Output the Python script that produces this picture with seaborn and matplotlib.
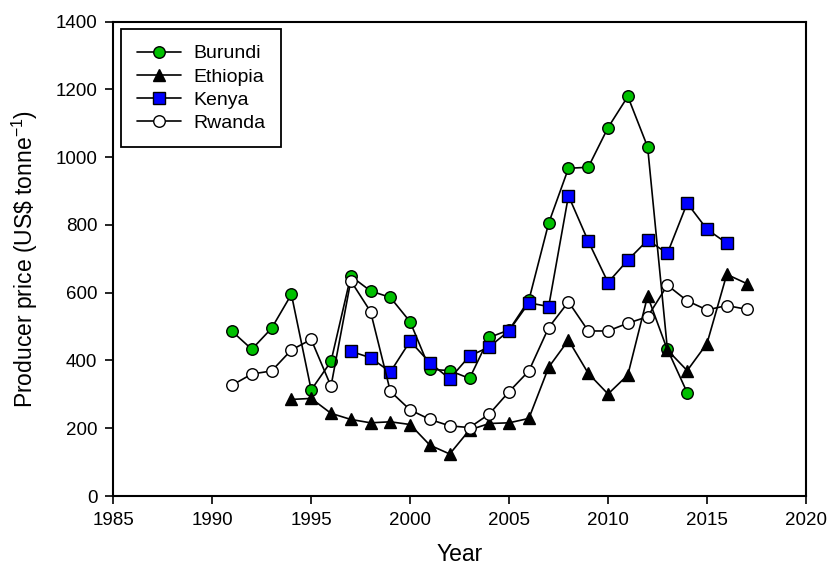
import matplotlib
matplotlib.use("Agg")
import matplotlib.pyplot as plt
import seaborn as sns
import pandas as pd

years_burundi = list(range(1991, 2015))
burundi = [486, 433, 495, 595, 313, 397, 649, 605, 586, 514, 374, 370, 347, 468,
           490, 578, 805, 967, 970, 1087, 1179, 1030, 433, 305]

years_ethiopia = list(range(1994, 2018))
ethiopia = [285, 288, 244, 226, 216, 219, 211, 150, 124, 195, 214, 216, 229, 380,
            460, 362, 301, 357, 590, 431, 370, 450, 654, 627]

years_kenya = list(range(1997, 2017))
kenya = [427, 408, 366, 457, 393, 346, 413, 440, 488, 570, 559, 886, 752, 630,
         696, 755, 716, 864, 787, 746]

years_rwanda = list(range(1991, 2018))
rwanda = [327, 360, 369, 431, 462, 324, 635, 544, 309, 254, 226, 207, 202, 242,
          308, 369, 497, 573, 487, 487, 510, 529, 622, 576, 549, 562, 551]

x_ticks = [1985, 1990, 1995, 2000, 2005, 2010, 2015, 2020]
y_ticks = [0, 200, 400, 600, 800, 1000, 1200, 1400]

sns.set_style("ticks")
plt.rcParams['font.family'] = ['Liberation Sans', 'DejaVu Sans']
plt.rcParams['mathtext.fontset'] = 'custom'
plt.rcParams['mathtext.rm'] = 'Liberation Sans'
plt.rcParams['mathtext.it'] = 'Liberation Sans'
plt.rcParams['text.color'] = 'black'
plt.rcParams['axes.labelcolor'] = 'black'
plt.rcParams['xtick.color'] = 'black'
plt.rcParams['ytick.color'] = 'black'

fig = plt.figure(figsize=(8.3, 5.71), dpi=100)
ax = fig.add_axes([0.1365, 0.1313, 0.971 - 0.1365, 0.9623 - 0.1313])

series = [
    ("Burundi", years_burundi, burundi, "o", "#00c000"),
    ("Ethiopia", years_ethiopia, ethiopia, "^", "black"),
    ("Kenya", years_kenya, kenya, "s", "#0000ff"),
    ("Rwanda", years_rwanda, rwanda, "o", "white"),
]

for name, yrs, vals, mk, fc in series:
    df = pd.DataFrame({"Year": yrs, "Price": vals})
    sns.lineplot(data=df, x="Year", y="Price", ax=ax, color="black", linewidth=1.2,
                 marker=mk, markersize=8.3 if mk != "^" else 9, markerfacecolor=fc,
                 markeredgecolor="black", markeredgewidth=1.0, label=name)

ax.set_xlim(1985, 2020)
ax.set_ylim(0, 1400)
ax.set_xticks(x_ticks)
ax.set_yticks(y_ticks)
ax.tick_params(axis='both', direction='out', length=5.5, width=1.2, labelsize=13.5,
               colors='black', pad=6)
for s in ax.spines.values():
    s.set_visible(True)
    s.set_linewidth(1.5)
    s.set_color('black')

ax.set_xlabel("Year", fontsize=16.5, labelpad=10)
ax.set_ylabel("Producer price (US\\$ tonne$^{-1}$)", fontsize=16.5, labelpad=11)

leg = ax.legend(loc="upper left", fontsize=14, frameon=True, fancybox=False,
                edgecolor="black", framealpha=1, handlelength=2.3,
                borderpad=0.8, labelspacing=0.28, borderaxespad=0.4,
                handletextpad=0.6)
leg.get_frame().set_linewidth(1.3)

fig.savefig("out.png", dpi=100)
